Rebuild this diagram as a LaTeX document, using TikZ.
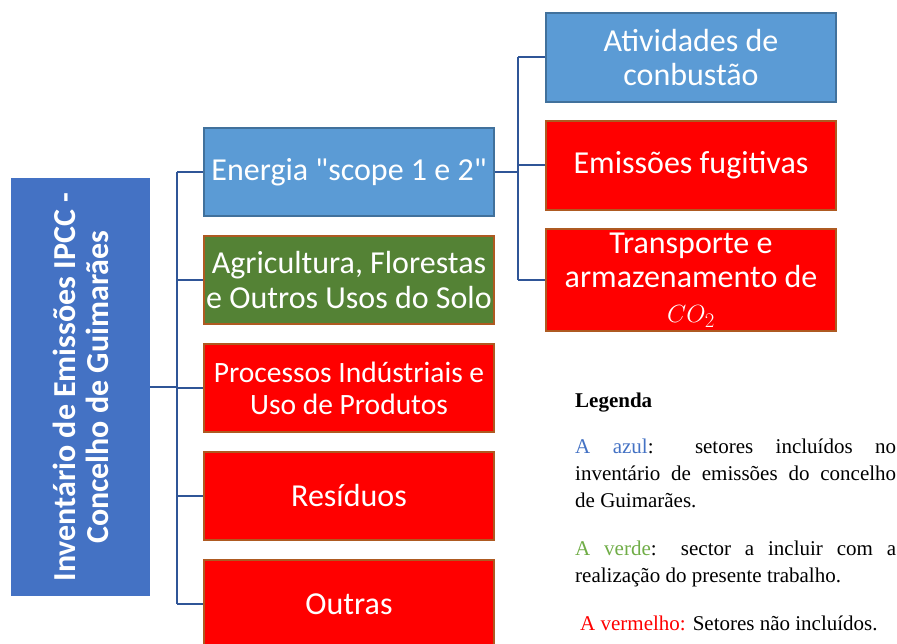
\documentclass[tikz,border=0pt]{standalone}
\usepackage{fontspec}
\setmainfont{Carlito}
\newfontfamily\aspas{Carlito}[Ligatures=TeXOff]
\newfontfamily\legfont{Liberation Serif}
\usepackage{tikz}

\definecolor{raizazul}{RGB}{68,114,196}
\definecolor{caixaazul}{RGB}{91,155,213}
\definecolor{bordaazul}{RGB}{65,113,156}
\definecolor{caixaverde}{RGB}{84,130,53}
\definecolor{bordacast}{RGB}{174,90,33}
\definecolor{ligacao}{RGB}{47,85,151}
\definecolor{legverde}{RGB}{112,173,71}

\tikzset{
  caixa/.style={draw, line width=2pt, anchor=north west, minimum width=290pt,
    minimum height=88pt, inner sep=0pt, text=white, align=center,
    font=\fontsize{32}{34.5}\selectfont},
  azul/.style={caixa, fill=caixaazul, draw=bordaazul},
  verde/.style={caixa, fill=caixaverde, draw=bordacast},
  vermelho/.style={caixa, fill=red, draw=bordacast},
  liga/.style={draw=ligacao, line width=2pt},
  legtxt/.style={anchor=north west, inner sep=0pt, text width=321pt, align=justify,
    font=\legfont\fontsize{21}{27}\selectfont}
}

\begin{document}
\hyphenpenalty=10000\relax
\begin{tikzpicture}[x=1pt, y=-1pt]
  \useasboundingbox (0,0) rectangle (897,644);

  % Raiz
  \node[fill=raizazul, anchor=north west, minimum width=139pt, minimum height=418pt,
        inner sep=0pt] (raiz) at (11,178) {};
  \node[rotate=90, text=white, align=center, font=\bfseries\fontsize{32}{33}\selectfont]
        at (raiz.center) {Inventário de Emissões IPCC -\\Concelho de Guimarães};

  % Setores
  \node[azul] (ener) at (203,127) {Energia {\aspas"}scope 1 e 2{\aspas"}};
  \node[verde] (agri) at (203,235) {Agricultura, Florestas\\e Outros Usos do Solo};
  \node[vermelho, font=\fontsize{29.5}{32}\selectfont] (proc) at (203,343) {Processos Indústriais e\\Uso de Produtos};
  \node[vermelho] (resi) at (203,451) {Resíduos};
  \node[vermelho] (outr) at (203,559) {Outras};

  % Subsetores da energia
  \node[azul, minimum height=89pt] (comb) at (545,12) {Atividades de\\conbustão};
  \node[vermelho, minimum height=89pt] (fugi) at (545,120) {Emissões fugitivas};
  \node[vermelho, minimum height=102pt] (tran) at (545,228) {Transporte e\\armazenamento de\\$CO_2$};

  % Ligacoes
  \coordinate (tronco) at (177,0);
  \coordinate (ramo) at (518,0);
  \draw[liga] (raiz.east) -- (raiz.east -| tronco);
  \draw[liga] (ener.west -| tronco) -- (outr.west -| tronco);
  \foreach \n in {ener,agri,proc,resi,outr}
    \draw[liga] (\n.west -| tronco) -- (\n.west);
  \draw[liga] (ener.east) -- (ener.east -| ramo);
  \draw[liga] (comb.west -| ramo) -- (tran.west -| ramo);
  \foreach \n in {comb,fugi,tran}
    \draw[liga] (\n.west -| ramo) -- (\n.west);

  % Legenda
  \node[legtxt] (leg) at (575,393) {\textbf{Legenda}};
  \node[legtxt] (lazul) at (575,439) {\textcolor{raizazul}{A azul}: setores incluídos no\linebreak inventário de emissões do concelho\linebreak de Guimarães.};
  \node[legtxt] (lverde) at (575,541) {\textcolor{legverde}{A verde}: sector a incluir com a\linebreak realização do presente trabalho.};
  \node[legtxt] (lverm) at (580,616) {\textcolor{red}{A vermelho:} Setores não incluídos.};
\end{tikzpicture}
\end{document}
